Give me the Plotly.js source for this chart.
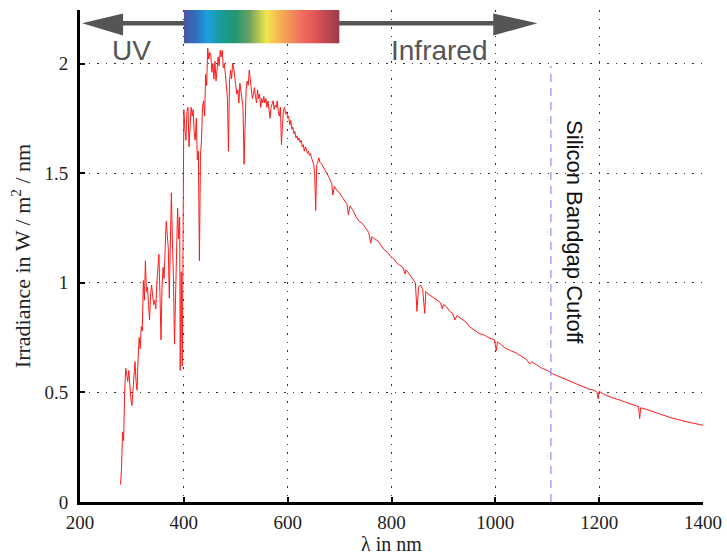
<!DOCTYPE html>
<html>
<head>
<meta charset="utf-8">
<script src="https://cdn.plot.ly/plotly-3.0.1.min.js"></script>
<style>html,body{margin:0;padding:0;background:#fff;}#chart{width:727px;height:555px;}</style>
</head>
<body>
<div id="chart"></div>
<script>
// Wavelength (nm) and spectral irradiance (W/m^2/nm)
const wavelength = [
 278,280,282,284,286,288,290,292,294,296,298,300,302,304,306,308,310,312,314,316,318,320,
 322,324,326,328,330,332,334,336,338,340,342,344,346,348,350,352,354,356,358,360,362,364,
 366,368,370,372,374,376,378,380,382,384,386,388,390,392,393,395,397,399,400,402,404,406,
 408,410,412,414,416,418,420,422,424,426,428,430,432,434,436,438,440,442,444,446,448,450,
 452,454,456,458,460,462,464,466,468,470,472,474,476,478,480,482,484,486,488,490,492,494,
 496,498,500,502,504,506,508,510,512,514,516,518,520,522,524,526,528,530,532,534,536,538,
 540,542,544,546,548,550,552,554,556,558,560,562,564,566,568,570,572,574,576,578,580,582,
 584,586,588,590,592,594,596,598,600,602,604,606,608,610,612,614,616,618,620,622,624,626,
 628,630,632,634,636,638,640,642,644,646,648,650,652,654,656,658,660,662,666,670,675,680,
 685,687,690,695,700,705,710,714,717,720,726,732,738,744,750,756,760,762,768,774,780,786,
 792,798,804,810,816,822,826,828,834,840,846,849,852,856,860,864,866,870,876,882,888,894,898,900,
 906,912,918,922,926,932,938,944,950,956,962,968,974,980,986,992,998,1002,1004,1010,1020,
 1030,1040,1050,1060,1066,1070,1080,1090,1100,1106,1110,1120,1130,1140,1150,1160,1170,
 1180,1190,1196,1198,1200,1210,1220,1230,1240,1250,1260,1270,1276,1278,1280,1290,1300,
 1310,1320,1330,1340,1350,1360,1370,1380,1390,1400
];
const irradiance = [
 0.08,0.15,0.32,0.28,0.50,0.61,0.58,0.55,0.60,0.50,0.47,0.44,0.52,0.56,0.64,0.55,0.51,0.66,0.75,0.70,0.80,0.78,
 1.01,0.92,1.10,0.96,0.98,0.90,0.83,0.95,0.99,0.94,0.90,0.92,0.88,1.00,1.05,1.13,0.95,0.74,0.98,1.07,1.02,1.20,
 1.28,1.22,1.16,0.93,1.25,1.41,1.19,1.02,0.72,0.95,1.10,1.34,1.20,1.30,0.60,1.05,0.62,1.45,1.79,1.70,1.65,1.78,
 1.80,1.62,1.72,1.80,1.76,1.79,1.68,1.65,1.75,1.56,1.60,1.10,1.58,1.65,1.80,1.83,1.76,1.95,1.90,2.07,2.02,2.05,
 2.04,1.96,2.00,1.93,2.01,1.92,1.97,2.03,1.99,2.06,2.03,2.06,1.98,2.00,1.95,1.90,1.84,1.60,1.92,1.97,1.93,2.00,
 1.98,1.94,1.90,1.86,1.88,1.82,1.91,1.88,1.84,1.80,1.54,1.72,1.88,1.92,1.90,1.97,1.93,1.88,1.84,1.86,1.89,1.85,
 1.82,1.88,1.84,1.86,1.80,1.84,1.82,1.85,1.82,1.84,1.80,1.83,1.77,1.75,1.80,1.82,1.83,1.79,1.81,1.80,1.83,1.78,
 1.76,1.80,1.63,1.72,1.79,1.80,1.77,1.78,1.75,1.76,1.72,1.74,1.70,1.71,1.68,1.69,1.66,1.67,1.65,1.66,1.64,1.65,
 1.62,1.63,1.60,1.62,1.61,1.59,1.60,1.58,1.59,1.57,1.55,1.54,1.50,1.33,1.54,1.55,1.57,1.55,1.54,1.52,1.50,1.48,
 1.45,1.40,1.44,1.42,1.41,1.39,1.37,1.36,1.31,1.35,1.33,1.30,1.28,1.27,1.25,1.23,1.18,1.21,1.20,1.19,1.17,1.15,
 1.14,1.12,1.11,1.09,1.08,1.07,1.04,1.06,1.04,1.02,1.00,0.87,0.98,0.99,0.97,0.86,0.96,0.95,0.94,0.93,0.92,0.91,0.88,0.90,
 0.89,0.87,0.86,0.83,0.85,0.84,0.83,0.82,0.80,0.79,0.78,0.77,0.765,0.76,0.75,0.745,0.74,0.69,0.73,0.72,0.70,
 0.69,0.68,0.665,0.65,0.63,0.64,0.625,0.61,0.60,0.59,0.585,0.575,0.565,0.555,0.545,0.535,0.525,
 0.515,0.51,0.50,0.47,0.505,0.49,0.48,0.472,0.465,0.455,0.447,0.44,0.435,0.38,0.43,0.423,0.415,
 0.405,0.398,0.39,0.383,0.377,0.37,0.365,0.36,0.355,0.35
];
const xTicks = [200, 400, 600, 800, 1000, 1200, 1400];
const yTicks = [0, 0.5, 1, 1.5, 2];
const yTickLabels = ['0', '0.5', '1', '1.5', '2'];
const cutoffWavelength = 1107;
const cutoffTop = 1.99;
const visibleBand = [400, 700];

const spectrumStops = [
  [0, '#4a55a0'], [0.08, '#3070c0'], [0.15, '#1ba0e0'], [0.23, '#1a9aa0'],
  [0.33, '#1f9870'], [0.42, '#6aa060'], [0.53, '#f3e64c'], [0.62, '#f4b052'],
  [0.75, '#f07060'], [0.83, '#e65858'], [1, '#983a4a']
];
let svg = "<svg xmlns='http://www.w3.org/2000/svg' width='300' height='35' preserveAspectRatio='none' viewBox='0 0 300 35'><defs><linearGradient id='g' x1='0' x2='1' y1='0' y2='0'>";
spectrumStops.forEach(s => { svg += "<stop offset='" + s[0] + "' stop-color='" + s[1] + "'/>"; });
svg += "</linearGradient></defs><rect width='300' height='35' fill='url(#g)'/></svg>";
const svgUri = 'data:image/svg+xml;charset=utf-8,' + encodeURIComponent(svg);

const serif = 'Liberation Serif, Times New Roman, serif';
const sans = 'Liberation Sans, Arial, sans-serif';
const arrowColor = '#555555';
const yLine = 2.183, yHeadTop = 2.228, yHeadBot = 2.128;

const traces = [
  {
    x: wavelength, y: irradiance, type: 'scatter', mode: 'lines',
    line: {color: '#ff1a1a', width: 1}, hoverinfo: 'skip', showlegend: false
  },
  {
    x: [cutoffWavelength, cutoffWavelength], y: [0, cutoffTop], type: 'scatter', mode: 'lines',
    line: {color: '#8c8cf2', width: 1.2, dash: '8px,6px'}, hoverinfo: 'skip', showlegend: false
  }
];

const layout = {
  width: 727, height: 555,
  margin: {l: 80, r: 24, t: 10, b: 53},
  paper_bgcolor: '#ffffff', plot_bgcolor: '#ffffff',
  showlegend: false,
  xaxis: {
    range: [200, 1400], tickvals: xTicks, ticktext: xTicks.map(String),
    ticks: 'inside', ticklen: 5, tickwidth: 2, tickcolor: '#000',
    showline: true, linecolor: '#000', linewidth: 3,
    showgrid: true, gridcolor: '#333', gridwidth: 1, griddash: '1.5px,7px',
    zeroline: false, ticklabelstandoff: 1,
    tickfont: {family: serif, size: 19, color: '#222'},
    title: {text: 'λ in nm', font: {family: serif, size: 20, color: '#222'}, standoff: 3},
    fixedrange: true
  },
  yaxis: {
    range: [0, 2.244], tickvals: yTicks, ticktext: yTickLabels,
    ticks: 'inside', ticklen: 5, tickwidth: 2, tickcolor: '#000',
    showline: true, linecolor: '#000', linewidth: 3,
    showgrid: true, gridcolor: '#333', gridwidth: 1, griddash: '1.5px,7px',
    zeroline: false, ticklabelstandoff: 5,
    tickfont: {family: serif, size: 19, color: '#222'},
    title: {text: 'Irradiance in W / m<sup>2</sup> / nm', font: {family: serif, size: 22, color: '#222'}, standoff: 8},
    fixedrange: true
  },
  images: [{
    source: svgUri, xref: 'x', yref: 'y',
    x: visibleBand[0], y: 2.251, sizex: visibleBand[1] - visibleBand[0], sizey: 0.16,
    sizing: 'stretch', xanchor: 'left', yanchor: 'top', layer: 'above'
  }],
  shapes: [
    {type: 'line', xref: 'x', yref: 'y', x0: 280, x1: 401, y0: yLine, y1: yLine, line: {color: arrowColor, width: 4.5}},
    {type: 'line', xref: 'x', yref: 'y', x0: 699, x1: 1000, y0: yLine, y1: yLine, line: {color: arrowColor, width: 4.5}},
    {type: 'path', xref: 'x', yref: 'y', path: `M 204 ${yLine} L 283 ${yHeadTop} L 283 ${yHeadBot} Z`, fillcolor: arrowColor, line: {width: 0}},
    {type: 'path', xref: 'x', yref: 'y', path: `M 1081 ${yLine} L 996 ${yHeadTop} L 996 ${yHeadBot} Z`, fillcolor: arrowColor, line: {width: 0}}
  ],
  annotations: [
    {x: 300, y: 2.06, xref: 'x', yref: 'y', text: 'UV', showarrow: false, font: {family: sans, size: 28, color: arrowColor}},
    {x: 893, y: 2.06, xref: 'x', yref: 'y', text: 'Infrared', showarrow: false, font: {family: sans, size: 28, color: arrowColor}},
    {x: 1152, y: 1.23, xref: 'x', yref: 'y', text: 'Silicon Bandgap Cutoff', textangle: 90, showarrow: false, font: {family: sans, size: 22, color: '#111'}}
  ]
};

Plotly.newPlot('chart', traces, layout, {displayModeBar: false, staticPlot: true});
</script>
</body>
</html>
